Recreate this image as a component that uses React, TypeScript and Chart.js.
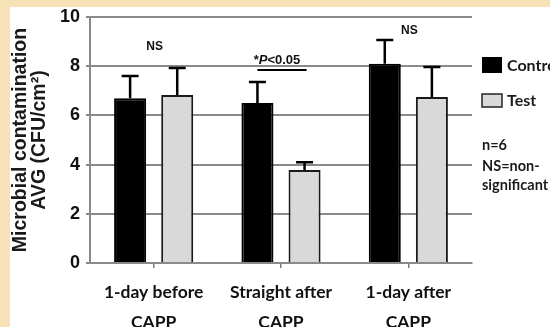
import React, { useEffect, useRef } from "react";
import { Chart, registerables } from "chart.js";
Chart.register(...registerables);

const categories = [["1-day before", "CAPP"], ["Straight after", "CAPP"], ["1-day after", "CAPP"]];
const seriesNames = ["Control", "Test"];
const controlValues = [6.7, 6.5, 8.1];
const controlErrors = [0.9, 0.86, 0.97];
const testValues = [6.83, 3.78, 6.75];
const testErrors = [1.1, 0.32, 1.22];
const yMin = 0;
const yMax = 10;
const yStep = 2;
const sigLabels = ["NS", "*P<0.05", "NS"];
const sigLevels = [8.8, 8.25, 9.45];
const sigBarLevel = 7.85;
const notes = ["n=6", "NS=non-", "significant"];

const BEIGE = "#f7e2b8";
const TEST_FILL = "#d9d9d9";
const ARIAL = "'Liberation Sans', Arial, sans-serif";
const HUMAN = "Lato, 'Open Sans', sans-serif";

export default function App() {
  const ref = useRef<HTMLCanvasElement | null>(null);
  useEffect(() => {
    const canvas = ref.current;
    if (!canvas) return;
    const errors = [controlErrors, testErrors];

    const bgPlugin = {
      id: "bg",
      beforeDraw(chart: any) {
        const ctx = chart.ctx;
        ctx.save();
        ctx.fillStyle = BEIGE;
        ctx.fillRect(0, 0, chart.width, chart.height);
        ctx.fillStyle = "#ffffff";
        ctx.fillRect(10, 7, chart.width - 10, chart.height - 7);
        ctx.restore();
      },
    };

    const errPlugin = {
      id: "errs",
      afterDatasetsDraw(chart: any) {
        const ctx = chart.ctx;
        const ys = chart.scales.y;
        ctx.save();
        ctx.strokeStyle = "#000";
        ctx.lineWidth = 2.5;
        chart.data.datasets.forEach((ds: any, di: number) => {
          const meta = chart.getDatasetMeta(di);
          meta.data.forEach((bar: any, i: number) => {
            const top = ys.getPixelForValue(ds.data[i] + errors[di][i]);
            ctx.beginPath();
            ctx.moveTo(bar.x, bar.y);
            ctx.lineTo(bar.x, top);
            ctx.moveTo(bar.x - 8.5, top);
            ctx.lineTo(bar.x + 8.5, top);
            ctx.stroke();
          });
        });
        ctx.restore();
      },
    };

    const annPlugin = {
      id: "ann",
      afterDraw(chart: any) {
        const ctx = chart.ctx;
        const xs = chart.scales.x;
        const ys = chart.scales.y;
        const ca = chart.chartArea;
        ctx.save();
        ctx.fillStyle = "#111";
        ctx.textAlign = "center";
        ctx.textBaseline = "middle";
        sigLabels.forEach((lab, i) => {
          const x = xs.getPixelForValue(i);
          const y = ys.getPixelForValue(sigLevels[i]);
          if (lab.startsWith("*P")) {
            const parts = ["*", "P", "<0.05"];
            const fonts = [
              `bold 13px ${ARIAL}`,
              `italic bold 13px ${ARIAL}`,
              `bold 13px ${ARIAL}`,
            ];
            let total = 0;
            const widths = parts.map((p, k) => {
              ctx.font = fonts[k];
              const w = ctx.measureText(p).width;
              total += w;
              return w;
            });
            let cx = x - 4 - total / 2;
            ctx.textAlign = "left";
            parts.forEach((p, k) => {
              ctx.font = fonts[k];
              ctx.fillText(p, cx, y);
              cx += widths[k];
            });
            ctx.textAlign = "center";
            const m0 = chart.getDatasetMeta(0).data[i];
            const m1 = chart.getDatasetMeta(1).data[i];
            const ly = ys.getPixelForValue(sigBarLevel);
            ctx.strokeStyle = "#000";
            ctx.lineWidth = 2;
            ctx.beginPath();
            ctx.moveTo(m0.x, ly);
            ctx.lineTo(m1.x + 2, ly);
            ctx.stroke();
          } else {
            ctx.font = `bold 12px ${ARIAL}`;
            ctx.fillText(lab, x + 1, y);
          }
        });
        // legend
        const lx = ca.right + 10;
        ctx.textAlign = "left";
        ctx.font = `bold 16px ${HUMAN}`;
        ctx.fillStyle = "#000";
        ctx.fillRect(lx, ca.top + 40, 20, 16);
        ctx.fillStyle = "#1a1a1a";
        ctx.fillText(seriesNames[0], lx + 25, ca.top + 49);
        ctx.fillStyle = TEST_FILL;
        ctx.fillRect(lx, ca.top + 77, 20, 13);
        ctx.strokeStyle = "#222";
        ctx.lineWidth = 1.5;
        ctx.strokeRect(lx, ca.top + 77, 20, 13);
        ctx.fillStyle = "#1a1a1a";
        ctx.fillText(seriesNames[1], lx + 25, ca.top + 84);
        ctx.font = `bold 14.5px ${HUMAN}`;
        ctx.fillText(notes[0], lx, ca.top + 128);
        ctx.fillText(notes[1], lx, ca.top + 149);
        ctx.fillText(notes[2], lx, ca.top + 168);
        ctx.restore();
      },
    };

    const chart = new Chart(canvas, {
      type: "bar",
      data: {
        labels: categories,
        datasets: [
          {
            label: seriesNames[0],
            data: controlValues,
            backgroundColor: "#000",
            borderColor: "#000",
            borderWidth: 2,
            categoryPercentage: 0.74,
            barPercentage: 0.68,
          },
          {
            label: seriesNames[1],
            data: testValues,
            backgroundColor: TEST_FILL,
            borderColor: "#1a1a1a",
            borderWidth: 2,
            categoryPercentage: 0.74,
            barPercentage: 0.68,
          },
        ],
      },
      options: {
        animation: false,
        responsive: false,
        maintainAspectRatio: false,
        layout: { padding: { left: 0, right: 78, top: 17, bottom: 0 } },
        plugins: { legend: { display: false }, tooltip: { enabled: false } },
        scales: {
          x: {
            grid: {
              offset: false,
              drawOnChartArea: false,
              drawTicks: true,
              tickLength: 5,
              color: "#7a7a7a",
              lineWidth: 1.5,
            },
            border: { color: "#8a8a8a", width: 2 },
            ticks: {
              color: "#111",
              font: { family: HUMAN, size: 17.5, weight: "bold", lineHeight: 1.71 },
              padding: 9,
              maxRotation: 0,
              autoSkip: false,
            },
            afterFit: (s: any) => {
              s.height = 64;
            },
          },
          y: {
            min: yMin,
            max: yMax,
            ticks: {
              stepSize: yStep,
              color: "#111",
              padding: 6,
              font: { family: ARIAL, size: 18, weight: "bold" },
            },
            grid: { color: "#8a8a8a", lineWidth: 2, tickLength: 4 },
            border: { color: "#8a8a8a", width: 2 },
            title: {
              display: true,
              text: ["Microbial contamination", "AVG (CFU/cm²)"],
              color: "#1a1a1a",
              font: { family: ARIAL, size: 19.5, weight: "bold", lineHeight: 0.93 },
              padding: { top: 12, bottom: 0 },
            },
            afterFit: (s: any) => {
              s.width = 90;
            },
          },
        },
      },
      plugins: [bgPlugin, errPlugin, annPlugin],
    });
    return () => chart.destroy();
  }, []);
  return (
    <div style={{ position: "fixed", left: 0, top: 0, width: 550, height: 327, background: BEIGE }}>
      <canvas ref={ref} width={550} height={327} style={{ display: "block", width: 550, height: 327 }} />
    </div>
  );
}
